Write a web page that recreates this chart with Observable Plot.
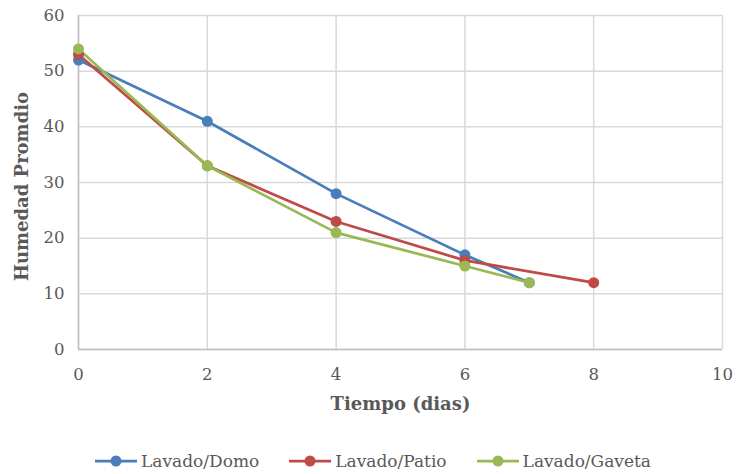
<!DOCTYPE html>
<html>
<head>
<meta charset="utf-8">
<script src="https://cdn.jsdelivr.net/npm/d3@7"></script>
<script src="https://cdn.jsdelivr.net/npm/@observablehq/plot@0.6"></script>
<style>
  body { margin: 0; background: #fff; font-family: "DejaVu Serif", serif; }
  #chart svg text { font-family: "DejaVu Serif", serif !important; }
  #legend { display: flex; justify-content: center; gap: 30px; font-size: 17px; color: #595959; margin-left: 10px; height: 30px; margin-top: 6px; align-items: center; font-family: "DejaVu Serif", serif; }
  .item { display: flex; align-items: center; gap: 4px; }
</style>
</head>
<body>
<div id="chart"></div>
<div id="legend"></div>
<script>
const series = ["Lavado/Domo", "Lavado/Patio", "Lavado/Gaveta"];
const colors = ["#4A7EBB", "#BE4B48", "#98B954"];
const daysDomo = [0, 2, 4, 6, 7];
const valuesDomo = [52, 41, 28, 17, 12];
const daysPatio = [0, 2, 4, 6, 8];
const valuesPatio = [53, 33, 23, 16, 12];
const daysGaveta = [0, 2, 4, 6, 7];
const valuesGaveta = [54, 33, 21, 15, 12];
const xTicks = [0, 2, 4, 6, 8, 10];
const yTicks = [0, 10, 20, 30, 40, 50, 60];

const data = [
  ...daysDomo.map((d, i) => ({s: series[0], x: d, y: valuesDomo[i]})),
  ...daysPatio.map((d, i) => ({s: series[1], x: d, y: valuesPatio[i]})),
  ...daysGaveta.map((d, i) => ({s: series[2], x: d, y: valuesGaveta[i]}))
];

const chart = Plot.plot({
  width: 736,
  height: 440,
  marginTop: 15,
  marginBottom: 91,
  marginLeft: 78,
  marginRight: 14,
  style: { fontFamily: "DejaVu Serif", fontSize: "16px", color: "#595959", background: "#fff" },
  x: { domain: [0, 10], ticks: xTicks, label: null, tickSize: 0 },
  y: { domain: [0, 60], ticks: yTicks, label: null, tickSize: 0 },
  color: { domain: series, range: colors },
  marks: [
    Plot.gridX(xTicks, { stroke: "#d9d9d9", strokeOpacity: 1, strokeWidth: 1.5 }),
    Plot.gridY(yTicks, { stroke: "#d9d9d9", strokeOpacity: 1, strokeWidth: 1.5 }),
    Plot.ruleX([0], { stroke: "#bfbfbf", strokeWidth: 1.5 }),
    Plot.ruleY([0], { stroke: "#bfbfbf", strokeWidth: 1.5 }),
    Plot.axisX({ ticks: xTicks, tickSize: 0, tickPadding: 19, fill: "#595959", fontSize: 16.5 }),
    Plot.axisY({ ticks: yTicks, tickSize: 0, tickPadding: 14, fill: "#595959", fontSize: 16.5 }),
    Plot.text(["Tiempo (dias)"], { frameAnchor: "bottom", dy: 60, fontWeight: "bold", fontSize: 18, fill: "#595959" }),
    Plot.text(["Humedad Promdio"], { frameAnchor: "left", textAnchor: "middle", dx: -56, dy: 4, rotate: -90, fontWeight: "bold", fontSize: 18, fill: "#595959" }),
    Plot.line(data, { x: "x", y: "y", z: "s", stroke: "s", strokeWidth: 2.75 }),
    Plot.dot(data, { x: "x", y: "y", fill: "s", r: 5.5 })
  ]
});
document.getElementById("chart").appendChild(chart);

const legend = document.getElementById("legend");
series.forEach((s, i) => {
  const item = document.createElement("div");
  item.className = "item";
  item.innerHTML = `<svg width="42" height="12"><line x1="0" y1="6" x2="42" y2="6" stroke="${colors[i]}" stroke-width="2.75"/><circle cx="21" cy="6" r="5.5" fill="${colors[i]}"/></svg><span>${s}</span>`;
  legend.appendChild(item);
});
</script>
</body>
</html>
